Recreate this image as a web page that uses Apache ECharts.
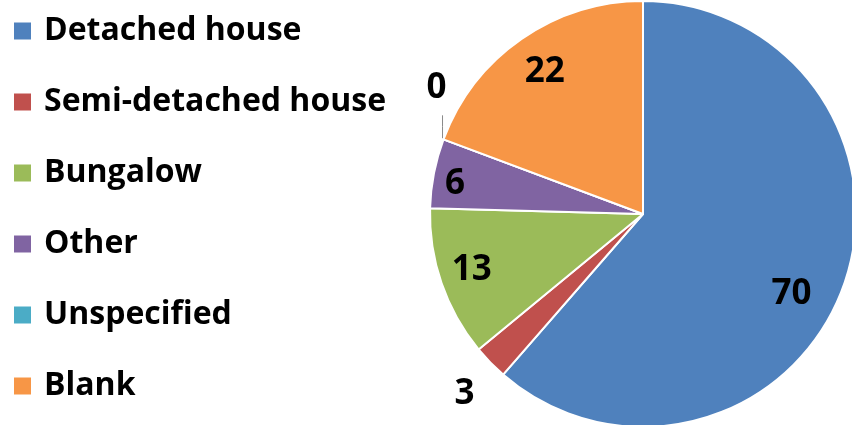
<!DOCTYPE html>
<html><head><meta charset="utf-8">
<script src="https://cdn.jsdelivr.net/npm/echarts@6/dist/echarts.min.js"></script>
<style>html,body{margin:0;padding:0;background:#fff}#c{width:852px;height:425px}</style>
</head><body><div id="c"></div>
<script>
const categories = ['Detached house', 'Semi-detached house', 'Bungalow', 'Other', 'Unspecified', 'Blank'];
const values = [70, 3, 13, 6, 0, 22];
const colors = ['#4F81BD', '#C0504D', '#9BBB59', '#8064A2', '#4BACC6', '#F79646'];

const FONT = 'Open Sans';
const CENTER = [643, 214];
const R = 213;

// small label nudges (Excel best-fit placement), in pixels
const nudge = { 'Detached house': [-13, 20], 'Bungalow': [8, -5], 'Other': [-2, 6], 'Semi-detached house': [4, 3] };

function labelFor(names) {
  return categories.map((n, i) => ({
    name: n, value: values[i],
    label: { show: names.indexOf(n) >= 0 }
  }));
}
const numLabel = { color: '#000', fontFamily: FONT, fontWeight: 'bold', fontSize: 35 };

function overlay(radius, names) {
  return {
    type: 'pie', center: CENTER, radius: radius, startAngle: 90, clockwise: true,
    silent: true, animation: false, legendHoverLink: false,
    itemStyle: { color: 'rgba(0,0,0,0)', borderWidth: 0 },
    emphasis: { disabled: true },
    label: Object.assign({ position: 'inside', formatter: '{c}' }, numLabel),
    labelLine: { show: false },
    labelLayout: function (p) {
      const d = nudge[categories[p.dataIndex]];
      if (d) return { dx: d[0], dy: d[1] };
    },
    data: labelFor(names)
  };
}

const chart = echarts.init(document.getElementById('c'), null, { renderer: 'canvas' });
chart.setOption({
  animation: false,
  color: colors,
  legend: {
    orient: 'vertical', left: 12, top: 15, padding: 0,
    itemWidth: 19, itemHeight: 19, itemGap: 39,
    icon: 'rect',
    selectedMode: false,
    data: categories,
    textStyle: { color: '#000', fontFamily: FONT, fontWeight: 'bold', fontSize: 32, lineHeight: 30, padding: [0, 0, 0, 7] }
  },
  series: [
    {
      type: 'pie', center: CENTER, radius: R, startAngle: 90, clockwise: true,
      animation: false,
      itemStyle: { borderColor: '#fff', borderWidth: 2 },
      emphasis: { disabled: true },
      label: Object.assign({ position: 'outside', formatter: '{c}' }, numLabel),
      labelLine: { show: true, length: 20, length2: 0, lineStyle: { color: '#8a8a8a', width: 1 } },
      labelLayout: function (p) {
        if (categories[p.dataIndex] === 'Unspecified') {
          const x = p.rect.x, y = p.rect.y;
          return {
            x: x - 6, y: y - 50, align: 'center', verticalAlign: 'middle',
            labelLinePoints: [[x, y], [x, y - 12], [x, y - 23]]
          };
        }
      },
      data: categories.map((n, i) => ({
        name: n, value: values[i],
        label: { show: n === 'Unspecified' },
        labelLine: { show: n === 'Unspecified' }
      }))
    },
    overlay([126, R], ['Detached house', 'Blank']),
    overlay([160, R], ['Bungalow', 'Other']),
    overlay([R, 290], ['Semi-detached house'])
  ]
});
</script></body></html>
